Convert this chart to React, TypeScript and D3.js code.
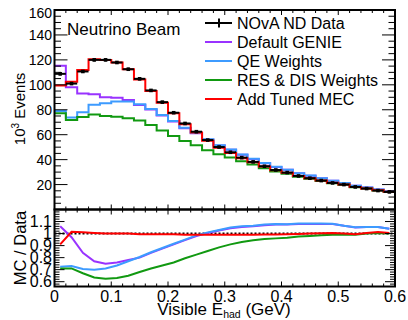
import React from "react";
import * as d3 from "d3";

// bin edges in visible hadronic energy (GeV)
const binEdges = [
  0, 0.02, 0.04, 0.06, 0.08, 0.1, 0.12, 0.14, 0.16, 0.18, 0.2, 0.22, 0.24, 0.26, 0.28, 0.3,
  0.32, 0.34, 0.36, 0.38, 0.4, 0.42, 0.44, 0.46, 0.48, 0.5, 0.52, 0.54, 0.56, 0.58, 0.6,
];

// events (10^3) per bin
const ndData = [
  108.8, 101, 110.7, 120, 120, 117.9, 112.5, 104.8, 95.5, 86.1, 77.6, 69, 62.4, 55.7, 50.1,
  45.9, 41.6, 38.2, 34.7, 31.7, 29.6, 26.9, 25.1, 23.2, 21.3, 20, 18.1, 16.8, 15.2, 14.1,
];
const ndErr = [
  1.2, 1.2, 1.2, 1.2, 1.2, 1.2, 1.2, 1.1, 1.1, 1.0, 1.0, 0.9, 0.9, 0.8, 0.8,
  0.8, 0.7, 0.7, 0.7, 0.6, 0.6, 0.6, 0.6, 0.5, 0.5, 0.5, 0.5, 0.5, 0.5, 0.5,
];
const defaultGenie = [
  115.3, 98.0, 93.0, 92.4, 90.0, 89.6, 87.8, 83.8, 80.2, 75.3, 70.6, 65.2, 61.2, 56.0, 51.4,
  48.0, 43.9, 40.5, 37.1, 34.1, 31.8, 29.1, 27.1, 25.1, 23.0, 21.3, 19.0, 17.7, 16.0, 14.7,
];
const qeWeights = [
  78.9, 73.7, 78.0, 84.0, 85.2, 86.7, 86.6, 84.4, 80.7, 75.8, 71.0, 65.6, 61.5, 56.3, 51.6,
  48.2, 44.1, 40.7, 37.3, 34.2, 31.9, 29.1, 27.2, 25.1, 23.0, 21.3, 19.0, 17.7, 16.0, 14.7,
];
const resDisWeights = [
  77.2, 71.7, 74.2, 76.2, 75.0, 74.3, 73.1, 71.3, 67.8, 63.3, 59.0, 54.9, 51.5, 47.6, 44.3,
  41.8, 38.7, 36.1, 33.1, 30.4, 28.6, 26.2, 24.6, 22.9, 21.1, 19.8, 17.9, 16.8, 15.3, 14.1,
];
const tunedMec = [
  99.5, 102.5, 111.8, 120.6, 120, 117.9, 112.5, 104.3, 95.0, 85.7, 77.2, 68.3, 61.8, 55.1, 49.6,
  45.4, 41.2, 37.8, 34.4, 31.5, 29.5, 26.8, 25.1, 23.3, 21.4, 20.0, 18.0, 16.9, 15.4, 14.2,
];

// MC / Data ratios per bin
const ratioGenie = [
  1.06, 0.97, 0.84, 0.77, 0.75, 0.76, 0.78, 0.8, 0.84, 0.875, 0.91, 0.945, 0.98, 1.005, 1.025,
  1.045, 1.055, 1.06, 1.07, 1.075, 1.075, 1.08, 1.08, 1.08, 1.08, 1.065, 1.05, 1.055, 1.055, 1.04,
];
const ratioQE = [
  0.725, 0.73, 0.705, 0.7, 0.71, 0.735, 0.77, 0.805, 0.845, 0.88, 0.915, 0.95, 0.985, 1.01, 1.03,
  1.05, 1.06, 1.065, 1.075, 1.08, 1.078, 1.083, 1.083, 1.083, 1.082, 1.065, 1.052, 1.055, 1.055, 1.04,
];
const ratioResDis = [
  0.71, 0.71, 0.67, 0.635, 0.625, 0.63, 0.65, 0.68, 0.71, 0.735, 0.76, 0.795, 0.825, 0.855, 0.885,
  0.91, 0.93, 0.945, 0.955, 0.96, 0.965, 0.975, 0.98, 0.985, 0.99, 0.99, 0.99, 1.0, 1.005, 1.0,
];
const ratioMec = [
  0.91, 1.015, 1.01, 1.005, 1.0, 1.0, 1.0, 0.995, 0.995, 0.995, 0.995, 0.99, 0.99, 0.99, 0.99,
  0.99, 0.99, 0.99, 0.992, 0.993, 0.995, 0.997, 1.0, 1.003, 1.005, 1.0, 0.995, 1.005, 1.012, 1.005,
];

const topTickLabels = [20, 40, 60, 80, 100, 120, 140, 160];
const ratioTickLabels = [0.6, 0.7, 0.8, 0.9, 1, 1.1];
const xTickLabels = [0, 0.1, 0.2, 0.3, 0.4, 0.5, 0.6];

const legendEntries = [
  { label: "NOvA ND Data", color: "#000000", data: true },
  { label: "Default GENIE", color: "#9933ff" },
  { label: "QE Weights", color: "#3d9bff" },
  { label: "RES & DIS Weights", color: "#119911" },
  { label: "Add Tuned MEC", color: "#ff0000" },
];

const FONT = "'Liberation Sans', Arial, Helvetica, sans-serif";

export default function App() {
  const left = 54.5, right = 395;
  const topY0 = 10, split = 209.5, bottomY1 = 286.5;

  const x = d3.scaleLinear().domain([0, 0.6]).range([left, right]);
  const yTop = d3.scaleLinear().domain([0, 160]).range([split, topY0]);
  const yRat = d3.scaleLinear().domain([0.56, 1.2]).range([bottomY1, split]);

  const centers = binEdges.slice(0, -1).map((e, i) => (e + binEdges[i + 1]) / 2);
  const line = d3.line();

  const stepPath = (vals: number[]) =>
    line(
      vals.flatMap((v, i) => [
        [x(binEdges[i]), yTop(v)] as [number, number],
        [x(binEdges[i + 1]), yTop(v)] as [number, number],
      ])
    ) || "";
  const ratioPath = (vals: number[]) =>
    line(vals.map((v, i) => [x(centers[i]), yRat(v)] as [number, number])) || "";

  const topMinor = d3.range(0, 160.001, 5);
  const ratMinor = d3.range(0.56, 1.2001, 0.02);
  const xMinor = binEdges;

  const topSeries = [
    { vals: defaultGenie, color: legendEntries[1].color },
    { vals: qeWeights, color: legendEntries[2].color },
    { vals: resDisWeights, color: legendEntries[3].color },
    { vals: tunedMec, color: legendEntries[4].color },
  ];
  const ratioSeries = [
    { vals: ratioGenie, color: legendEntries[1].color },
    { vals: ratioQE, color: legendEntries[2].color },
    { vals: ratioResDis, color: legendEntries[3].color },
    { vals: ratioMec, color: legendEntries[4].color },
  ];

  const isMajor = (v: number, step: number) => Math.abs(v / step - Math.round(v / step)) < 1e-6;

  return (
    <svg
      width={408}
      height={320}
      style={{ position: "absolute", left: 0, top: 0, background: "#fff" }}
      fontFamily={FONT}
    >
      <rect width={408} height={320} fill="#fff" />

      {/* top panel histograms */}
      {topSeries.map((s, i) => (
        <path key={i} d={stepPath(s.vals)} fill="none" stroke={s.color} strokeWidth={2} />
      ))}

      {/* data points */}
      {ndData.map((v, i) => (
        <g key={i}>
          <line x1={x(binEdges[i])} x2={x(binEdges[i + 1])} y1={yTop(v)} y2={yTop(v)} stroke="#000" strokeWidth={2} />
          <line x1={x(centers[i])} x2={x(centers[i])} y1={yTop(v - ndErr[i])} y2={yTop(v + ndErr[i])} stroke="#000" strokeWidth={2} />
          <rect x={x(centers[i]) - 1.8} y={yTop(v) - 1.8} width={3.6} height={3.6} fill="#000" />
        </g>
      ))}

      {/* top y ticks */}
      {topMinor.map((v) => {
        const len = isMajor(v, 20) ? 13 : 6.5;
        return (
          <g key={v}>
            <line x1={left} x2={left + len} y1={yTop(v)} y2={yTop(v)} stroke="#000" strokeWidth={1} />
            <line x1={right} x2={right - len} y1={yTop(v)} y2={yTop(v)} stroke="#000" strokeWidth={1} />
          </g>
        );
      })}
      {topTickLabels.map((v) => (
        <text key={v} x={52} y={yTop(v) + (v === 160 ? 8 : 5)} fontSize={14} textAnchor="end">
          {v}
        </text>
      ))}

      {/* top panel x ticks */}
      {xMinor.map((v) => {
        const len = isMajor(v, 0.1) ? 5 : 3;
        return (
          <g key={v}>
            <line x1={x(v)} x2={x(v)} y1={split} y2={split - len} stroke="#000" strokeWidth={1} />
            <line x1={x(v)} x2={x(v)} y1={topY0} y2={topY0 + len} stroke="#000" strokeWidth={1} />
          </g>
        );
      })}

      <rect x={left} y={topY0} width={right - left} height={split - topY0} fill="none" stroke="#000" strokeWidth={2} />

      {/* legend */}
      {legendEntries.map((e, i) => {
        const cy = 23 + i * 19;
        return (
          <g key={e.label}>
            <line x1={205} x2={232} y1={cy} y2={cy} stroke={e.color} strokeWidth={2} />
            {e.data && <line x1={219} x2={219} y1={cy - 4.5} y2={cy + 4.5} stroke="#000" strokeWidth={2} />}
            <text x={237} y={cy + 5.5} fontSize={16}>
              {e.label}
            </text>
          </g>
        );
      })}

      <text x={67} y={35} fontSize={17}>
        Neutrino Beam
      </text>

      <text transform={`translate(25,109) rotate(-90)`} fontSize={15} textAnchor="middle">
        10<tspan dy={-6} fontSize={10}>3</tspan>
        <tspan dy={6}> Events</tspan>
      </text>

      {/* ratio panel */}
      <line x1={left} x2={right} y1={yRat(1)} y2={yRat(1)} stroke="#000" strokeWidth={2} strokeDasharray="2,2" />
      {ratioSeries.map((s, i) => (
        <path key={i} d={ratioPath(s.vals)} fill="none" stroke={s.color} strokeWidth={2} />
      ))}

      {ratMinor.map((v) => {
        const len = isMajor(v, 0.1) ? 10 : 5;
        return (
          <g key={v.toFixed(2)}>
            <line x1={left} x2={left + len} y1={yRat(v)} y2={yRat(v)} stroke="#000" strokeWidth={1} />
            <line x1={right} x2={right - len} y1={yRat(v)} y2={yRat(v)} stroke="#000" strokeWidth={1} />
          </g>
        );
      })}
      {ratioTickLabels.map((v) => (
        <text key={v} x={52} y={yRat(v) + 5.5} fontSize={16} textAnchor="end">
          {v}
        </text>
      ))}
      {xMinor.map((v) => {
        const len = isMajor(v, 0.1) ? 5 : 3;
        return (
          <g key={v}>
            <line x1={x(v)} x2={x(v)} y1={split} y2={split + len} stroke="#000" strokeWidth={1} />
            <line x1={x(v)} x2={x(v)} y1={bottomY1} y2={bottomY1 - len} stroke="#000" strokeWidth={1} />
          </g>
        );
      })}
      {xTickLabels.map((v) => (
        <text key={v} x={x(v)} y={302} fontSize={16} textAnchor="middle">
          {v}
        </text>
      ))}

      <rect x={left} y={split} width={right - left} height={bottomY1 - split} fill="none" stroke="#000" strokeWidth={2} />

      <text transform={`translate(26,248) rotate(-90)`} fontSize={16.5} textAnchor="middle">
        MC / Data
      </text>

      <text x={224} y={315} fontSize={17} textAnchor="middle">
        Visible E<tspan dy={3} fontSize={10.5}>had</tspan>
        <tspan dy={-3}> (GeV)</tspan>
      </text>
    </svg>
  );
}
